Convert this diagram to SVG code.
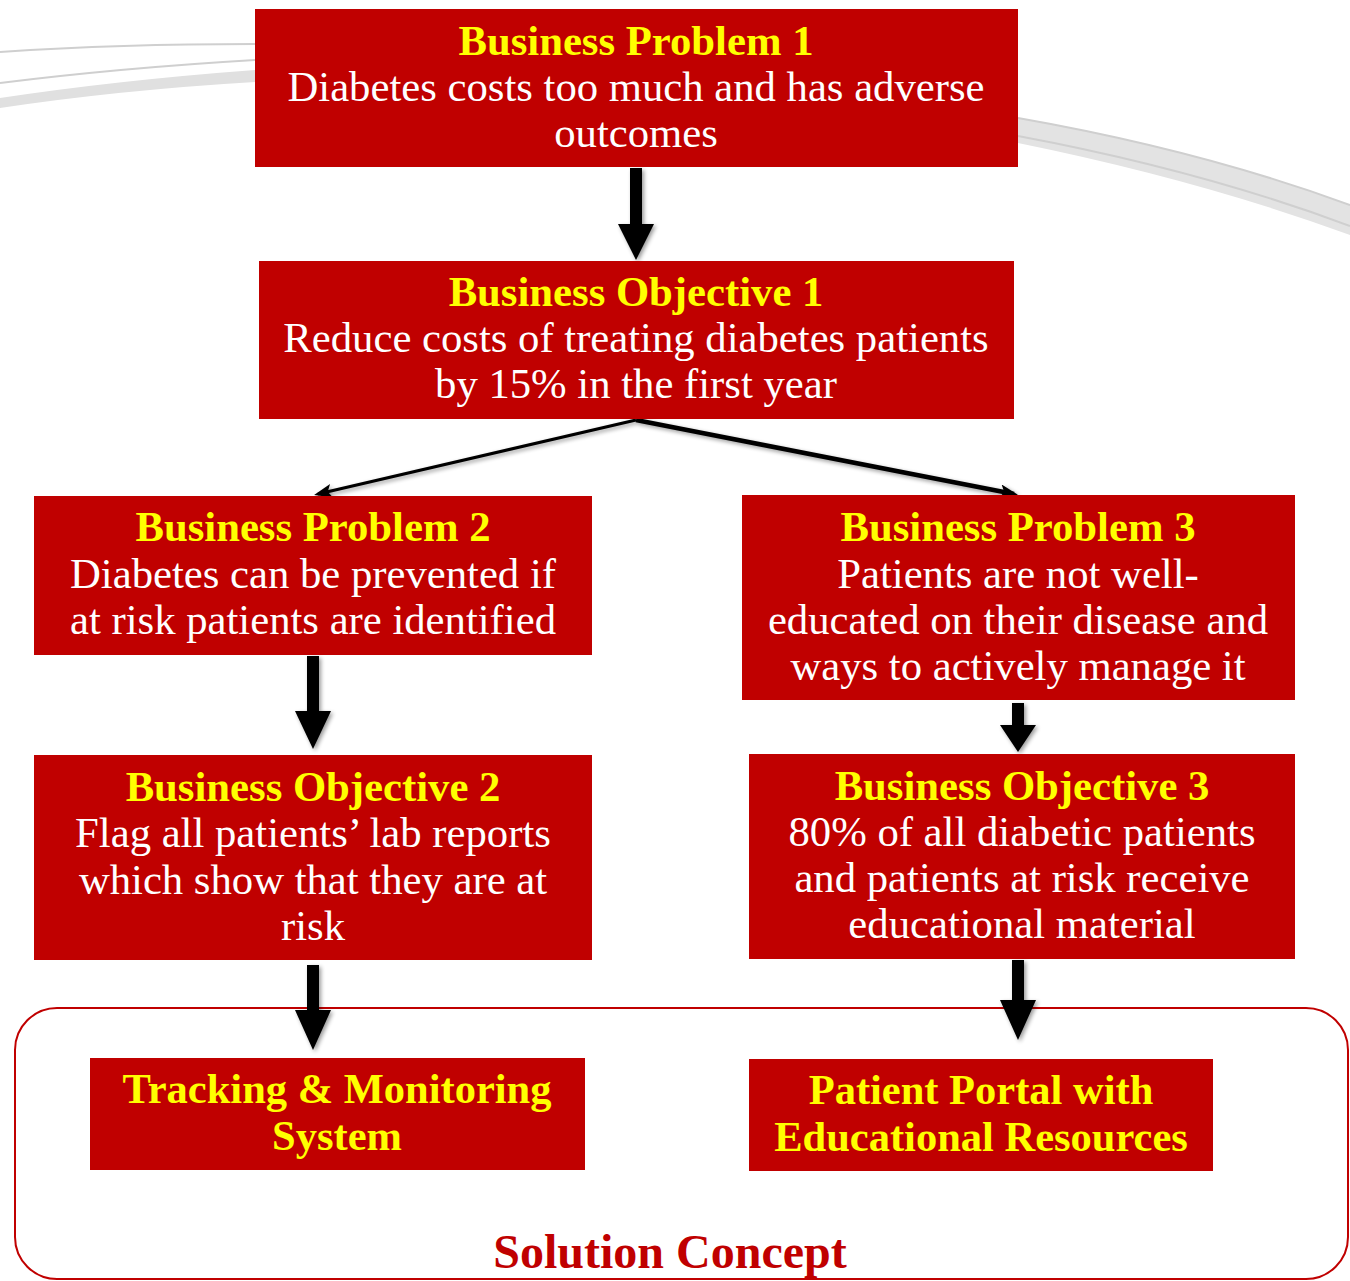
<svg xmlns="http://www.w3.org/2000/svg" width="1350" height="1281" viewBox="0 0 1350 1281">
<style>
.box{fill:#C00000}
.t{font-family:"Liberation Serif","Times New Roman",serif;font-size:42.7px;text-anchor:middle}
.h{fill:#FFFF00;font-weight:bold}
.b{fill:#FFFFFF}
.arr{fill:#000}
</style>
<defs>
<filter id="sh" x="-20%" y="-20%" width="140%" height="140%"><feGaussianBlur in="SourceAlpha" stdDeviation="2"/><feOffset dx="2" dy="2"/><feComponentTransfer><feFuncA type="linear" slope="0.4"/></feComponentTransfer><feMerge><feMergeNode/><feMergeNode in="SourceGraphic"/></feMerge></filter>
<marker id="ah" markerWidth="18" markerHeight="14" refX="14" refY="7" orient="auto" markerUnits="userSpaceOnUse" viewBox="0 0 18 14"><path d="M0,0 L18,7 L0,14 L4,7 z" fill="#000"/></marker>
</defs>
<g id="background">
<path d="M0,52 Q120,44 255,44" fill="none" stroke="#cfcfcf" stroke-width="2"/>
<path d="M0,83 Q120,68 255,60" fill="none" stroke="#cfcfcf" stroke-width="2"/>
<path d="M0,98 Q120,80 255,70 L255,82 Q120,90 0,108 z" fill="#e0e0e0"/>
<path d="M1018,118 Q1200,150 1350,205 L1350,235 Q1200,180 1018,143 z" fill="#e3e3e3"/>
<path d="M1018,118 Q1200,150 1350,205" fill="none" stroke="#cfcfcf" stroke-width="2"/>
<path d="M1018,136 Q1200,170 1350,226" fill="none" stroke="#cfcfcf" stroke-width="2"/>
</g>
<g id="solution-concept">
<rect x="15" y="1008" width="1333" height="271" rx="42" ry="42" fill="none" stroke="#C00000" stroke-width="2"/>
<text class="t" x="670" y="1268" style="font-size:48px;font-weight:bold;fill:#C00000">Solution Concept</text>
</g>
<g id="connectors" filter="url(#sh)">
<path class="arr" d="M630,168 h12 v56 h12 l-18,36 l-18,-36 h12 z"/>
<path class="arr" d="M307,656 h12 v55 h12 l-18,38 l-18,-38 h12 z"/>
<path class="arr" d="M1012,703 h12 v22 h12 l-18,27 l-18,-27 h12 z"/>
<path class="arr" d="M307,965 h12 v45 h12 l-18,40 l-18,-40 h12 z"/>
<path class="arr" d="M1012,960 h12 v40 h12 l-18,40 l-18,-40 h12 z"/>
<line x1="636" y1="420" x2="318" y2="494" stroke="#000" stroke-width="3" marker-end="url(#ah)"/>
<line x1="636" y1="420" x2="1014" y2="494" stroke="#000" stroke-width="4.5" marker-end="url(#ah)"/>
</g>
<g id="bp1">
<rect class="box" x="255" y="9" width="763" height="158"/>
<text class="t h" x="636" y="55">Business Problem 1</text>
<text class="t b" x="636" y="101">Diabetes costs too much and has adverse</text>
<text class="t b" x="636" y="147">outcomes</text>
</g>
<g id="bo1">
<rect class="box" x="259" y="261" width="755" height="158"/>
<text class="t h" x="636" y="306">Business Objective 1</text>
<text class="t b" x="636" y="352">Reduce costs of treating diabetes patients</text>
<text class="t b" x="636" y="398">by 15% in the first year</text>
</g>
<g id="bp2">
<rect class="box" x="34" y="496" width="558" height="159"/>
<text class="t h" x="313" y="541">Business Problem 2</text>
<text class="t b" x="313" y="588">Diabetes can be prevented if</text>
<text class="t b" x="313" y="634">at risk patients are identified</text>
</g>
<g id="bp3">
<rect class="box" x="742" y="495" width="553" height="205"/>
<text class="t h" x="1018" y="541">Business Problem 3</text>
<text class="t b" x="1018" y="588">Patients are not well-</text>
<text class="t b" x="1018" y="634">educated on their disease and</text>
<text class="t b" x="1018" y="680">ways to actively manage it</text>
</g>
<g id="bo2">
<rect class="box" x="34" y="755" width="558" height="205"/>
<text class="t h" x="313" y="801">Business Objective 2</text>
<text class="t b" x="313" y="847">Flag all patients’ lab reports</text>
<text class="t b" x="313" y="894">which show that they are at</text>
<text class="t b" x="313" y="940">risk</text>
</g>
<g id="bo3">
<rect class="box" x="749" y="754" width="546" height="205"/>
<text class="t h" x="1022" y="800">Business Objective 3</text>
<text class="t b" x="1022" y="846">80% of all diabetic patients</text>
<text class="t b" x="1022" y="892">and patients at risk receive</text>
<text class="t b" x="1022" y="938">educational material</text>
</g>
<g id="tracking">
<rect class="box" x="90" y="1058" width="495" height="112"/>
<text class="t h" x="337" y="1103" style="font-size:42.5px">Tracking &amp; Monitoring</text>
<text class="t h" x="337" y="1150" style="font-size:42.5px">System</text>
</g>
<g id="portal">
<rect class="box" x="749" y="1059" width="464" height="112"/>
<text class="t h" x="981" y="1104" style="font-size:42.5px">Patient Portal with</text>
<text class="t h" x="981" y="1151" style="font-size:42.5px">Educational Resources</text>
</g>
</svg>
